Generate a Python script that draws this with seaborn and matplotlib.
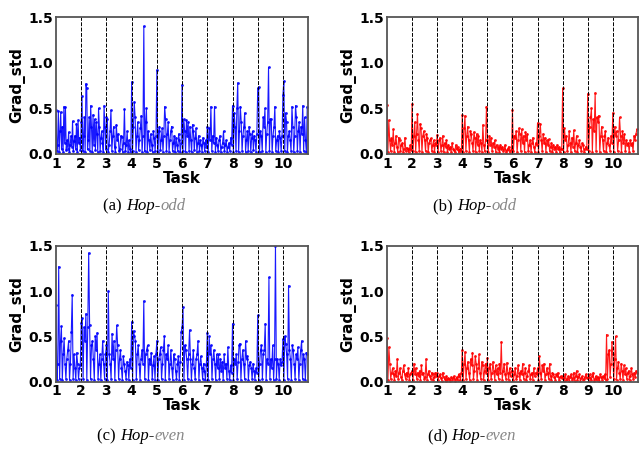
import pandas as pd
import matplotlib
matplotlib.use("Agg")
import matplotlib.pyplot as plt
from matplotlib.text import Annotation
import seaborn as sns

# per-task grad std values (10 tasks each)
odd_blue = [
    [0.48, 0.03, 0.10, 0.47, 0.02, 0.25, 0.46, 0.05, 0.30, 0.02, 0.52, 0.12, 0.51, 0.04, 0.15, 0.06, 0.24, 0.02, 0.10, 0.20, 0.08, 0.36, 0.03, 0.14, 0.20, 0.05, 0.33, 0.02, 0.37, 0.12, 0.18, 0.04],
    [0.35, 0.63, 0.03, 0.20, 0.40, 0.02, 0.77, 0.72, 0.05, 0.15, 0.40, 0.03, 0.53, 0.30, 0.02, 0.43, 0.10, 0.38, 0.04, 0.35, 0.22, 0.02, 0.50, 0.30, 0.03, 0.18, 0.25, 0.12, 0.02, 0.53, 0.30, 0.05],
    [0.40, 0.38, 0.02, 0.10, 0.25, 0.48, 0.03, 0.20, 0.30, 0.08, 0.02, 0.32, 0.15, 0.22, 0.03, 0.06, 0.20, 0.19, 0.02, 0.12, 0.49, 0.03, 0.10, 0.25, 0.02, 0.15, 0.05, 0.02],
    [0.79, 0.03, 0.30, 0.57, 0.40, 0.02, 0.20, 0.35, 0.04, 0.15, 0.28, 0.42, 0.02, 0.20, 1.40, 0.03, 0.35, 0.50, 0.02, 0.25, 0.15, 0.04, 0.22, 0.10, 0.02, 0.25, 0.18, 0.03, 0.20],
    [0.92, 0.02, 0.25, 0.30, 0.04, 0.15, 0.28, 0.02, 0.20, 0.52, 0.38, 0.03, 0.22, 0.35, 0.02, 0.15, 0.25, 0.30, 0.03, 0.12, 0.20, 0.02, 0.18, 0.10, 0.03, 0.22, 0.15, 0.02, 0.12],
    [0.76, 0.03, 0.38, 0.25, 0.02, 0.37, 0.20, 0.35, 0.03, 0.30, 0.15, 0.02, 0.32, 0.25, 0.04, 0.18, 0.28, 0.02, 0.12, 0.20, 0.03, 0.15, 0.10, 0.02, 0.18, 0.12, 0.03, 0.15, 0.08],
    [0.30, 0.02, 0.28, 0.15, 0.52, 0.03, 0.20, 0.12, 0.52, 0.02, 0.18, 0.10, 0.03, 0.15, 0.20, 0.02, 0.08, 0.12, 0.25, 0.03, 0.10, 0.15, 0.02, 0.08, 0.12, 0.03, 0.18, 0.10],
    [0.53, 0.02, 0.45, 0.30, 0.03, 0.50, 0.78, 0.02, 0.25, 0.52, 0.35, 0.03, 0.20, 0.30, 0.45, 0.02, 0.15, 0.25, 0.03, 0.30, 0.22, 0.02, 0.18, 0.25, 0.04, 0.20, 0.15, 0.02, 0.22],
    [0.72, 0.73, 0.02, 0.25, 0.20, 0.03, 0.40, 0.30, 0.50, 0.02, 0.22, 0.35, 0.95, 0.03, 0.38, 0.38, 0.02, 0.20, 0.30, 0.52, 0.03, 0.15, 0.20, 0.02, 0.25, 0.18, 0.03, 0.20],
    [0.65, 0.80, 0.03, 0.45, 0.35, 0.02, 0.20, 0.25, 0.15, 0.03, 0.52, 0.30, 0.02, 0.20, 0.53, 0.40, 0.03, 0.25, 0.35, 0.02, 0.30, 0.22, 0.53, 0.03, 0.40, 0.15, 0.02, 0.52],
]
odd_red = [
    [0.54, 0.02, 0.37, 0.15, 0.03, 0.17, 0.10, 0.27, 0.02, 0.12, 0.20, 0.08, 0.02, 0.18, 0.15, 0.03, 0.10, 0.12, 0.02, 0.06, 0.18, 0.03, 0.07, 0.05, 0.02, 0.06, 0.10, 0.04],
    [0.55, 0.03, 0.20, 0.35, 0.02, 0.22, 0.44, 0.15, 0.03, 0.33, 0.28, 0.02, 0.20, 0.25, 0.15, 0.03, 0.22, 0.18, 0.02, 0.12, 0.15, 0.17, 0.03, 0.10, 0.15, 0.02, 0.12, 0.10],
    [0.21, 0.02, 0.15, 0.18, 0.03, 0.10, 0.20, 0.02, 0.12, 0.08, 0.15, 0.02, 0.10, 0.05, 0.08, 0.02, 0.12, 0.06, 0.04, 0.02, 0.10, 0.05, 0.08, 0.02, 0.04, 0.06, 0.03],
    [0.43, 0.02, 0.28, 0.42, 0.03, 0.20, 0.30, 0.15, 0.02, 0.25, 0.22, 0.12, 0.03, 0.24, 0.18, 0.02, 0.22, 0.10, 0.20, 0.03, 0.15, 0.12, 0.02, 0.32, 0.10, 0.03, 0.15, 0.52],
    [0.15, 0.02, 0.20, 0.10, 0.18, 0.03, 0.12, 0.08, 0.15, 0.02, 0.10, 0.06, 0.08, 0.02, 0.10, 0.05, 0.08, 0.03, 0.06, 0.10, 0.02, 0.04, 0.06, 0.08, 0.02, 0.04, 0.05],
    [0.48, 0.03, 0.20, 0.18, 0.25, 0.02, 0.15, 0.28, 0.22, 0.03, 0.27, 0.12, 0.20, 0.02, 0.24, 0.15, 0.22, 0.03, 0.10, 0.15, 0.02, 0.12, 0.18, 0.08, 0.02, 0.12, 0.10],
    [0.34, 0.02, 0.20, 0.33, 0.15, 0.03, 0.22, 0.12, 0.18, 0.02, 0.15, 0.10, 0.16, 0.03, 0.08, 0.12, 0.02, 0.10, 0.06, 0.08, 0.02, 0.10, 0.05, 0.08, 0.02, 0.06, 0.05],
    [0.72, 0.02, 0.28, 0.15, 0.20, 0.03, 0.10, 0.25, 0.12, 0.02, 0.18, 0.08, 0.26, 0.03, 0.12, 0.20, 0.02, 0.10, 0.15, 0.08, 0.03, 0.12, 0.10, 0.02, 0.06, 0.08, 0.05],
    [0.66, 0.03, 0.30, 0.40, 0.50, 0.02, 0.38, 0.25, 0.67, 0.03, 0.40, 0.35, 0.42, 0.02, 0.20, 0.30, 0.15, 0.03, 0.20, 0.25, 0.02, 0.12, 0.18, 0.10, 0.03, 0.20, 0.12],
    [0.45, 0.02, 0.30, 0.20, 0.25, 0.03, 0.15, 0.40, 0.20, 0.02, 0.25, 0.12, 0.22, 0.03, 0.15, 0.10, 0.12, 0.02, 0.15, 0.10, 0.12, 0.03, 0.20, 0.15, 0.22, 0.27],
]
even_blue = [
    [0.85, 0.02, 0.20, 1.27, 0.03, 0.45, 0.61, 0.02, 0.30, 0.48, 0.20, 0.03, 0.25, 0.35, 0.45, 0.02, 0.20, 0.55, 0.96, 0.03, 0.30, 0.15, 0.02, 0.32, 0.20, 0.03, 0.15, 0.18],
    [0.65, 0.70, 0.03, 0.60, 0.45, 0.75, 0.02, 0.60, 1.42, 0.62, 0.03, 0.40, 0.45, 0.25, 0.02, 0.50, 0.35, 0.54, 0.03, 0.20, 0.30, 0.02, 0.25, 0.45, 0.20, 0.03, 0.30],
    [0.40, 0.02, 1.00, 0.30, 0.20, 0.03, 0.53, 0.25, 0.45, 0.02, 0.35, 0.62, 0.40, 0.03, 0.25, 0.35, 0.15, 0.02, 0.28, 0.20, 0.12, 0.03, 0.22, 0.18, 0.02, 0.25, 0.15],
    [0.66, 0.02, 0.56, 0.50, 0.45, 0.03, 0.30, 0.40, 0.20, 0.02, 0.25, 0.35, 0.20, 0.89, 0.03, 0.30, 0.35, 0.40, 0.02, 0.25, 0.20, 0.32, 0.03, 0.18, 0.28, 0.02, 0.30],
    [0.45, 0.02, 0.25, 0.30, 0.38, 0.03, 0.20, 0.35, 0.50, 0.02, 0.30, 0.25, 0.40, 0.03, 0.20, 0.35, 0.15, 0.02, 0.30, 0.25, 0.12, 0.03, 0.20, 0.28, 0.02, 0.22, 0.55],
    [0.60, 0.82, 0.02, 0.40, 0.35, 0.25, 0.03, 0.30, 0.57, 0.25, 0.02, 0.20, 0.35, 0.15, 0.03, 0.25, 0.30, 0.45, 0.02, 0.20, 0.28, 0.15, 0.03, 0.20, 0.12, 0.02, 0.18],
    [0.54, 0.02, 0.50, 0.30, 0.40, 0.03, 0.25, 0.35, 0.20, 0.02, 0.30, 0.15, 0.30, 0.03, 0.25, 0.12, 0.22, 0.02, 0.30, 0.15, 0.20, 0.03, 0.38, 0.12, 0.02, 0.18, 0.10],
    [0.64, 0.02, 0.25, 0.20, 0.30, 0.03, 0.22, 0.40, 0.42, 0.02, 0.25, 0.35, 0.20, 0.03, 0.45, 0.25, 0.28, 0.02, 0.18, 0.22, 0.15, 0.03, 0.20, 0.12, 0.02, 0.15, 0.10],
    [0.73, 0.02, 0.20, 0.35, 0.40, 0.03, 0.30, 0.35, 0.64, 0.02, 0.25, 0.20, 1.15, 0.03, 0.25, 0.15, 0.40, 0.02, 0.25, 1.50, 0.03, 0.25, 0.20, 0.02, 0.25, 0.18, 0.22],
    [0.47, 0.02, 0.50, 0.42, 0.30, 0.03, 1.06, 0.35, 0.25, 0.02, 0.40, 0.35, 0.20, 0.03, 0.30, 0.25, 0.38, 0.02, 0.20, 0.35, 0.45, 0.03, 0.30, 0.25, 0.02, 0.32, 0.30],
]
even_red = [
    [0.48, 0.02, 0.38, 0.20, 0.03, 0.10, 0.15, 0.08, 0.02, 0.12, 0.06, 0.25, 0.03, 0.10, 0.15, 0.05, 0.02, 0.12, 0.18, 0.08, 0.03, 0.10, 0.06, 0.15, 0.02, 0.08, 0.10],
    [0.12, 0.02, 0.20, 0.08, 0.15, 0.03, 0.10, 0.06, 0.12, 0.02, 0.18, 0.08, 0.10, 0.03, 0.05, 0.25, 0.02, 0.08, 0.12, 0.06, 0.03, 0.10, 0.08, 0.02, 0.05, 0.10, 0.06],
    [0.10, 0.02, 0.06, 0.08, 0.04, 0.01, 0.10, 0.05, 0.03, 0.01, 0.06, 0.02, 0.04, 0.03, 0.01, 0.05, 0.02, 0.04, 0.06, 0.01, 0.03, 0.05, 0.02, 0.08, 0.06, 0.02, 0.10],
    [0.35, 0.02, 0.20, 0.33, 0.03, 0.15, 0.22, 0.10, 0.02, 0.25, 0.18, 0.32, 0.03, 0.12, 0.28, 0.20, 0.02, 0.15, 0.30, 0.10, 0.03, 0.22, 0.18, 0.02, 0.12, 0.20, 0.10],
    [0.26, 0.02, 0.15, 0.20, 0.03, 0.10, 0.22, 0.12, 0.02, 0.18, 0.08, 0.15, 0.03, 0.20, 0.10, 0.44, 0.02, 0.12, 0.20, 0.08, 0.03, 0.21, 0.10, 0.02, 0.15, 0.06, 0.12],
    [0.12, 0.02, 0.08, 0.15, 0.03, 0.06, 0.18, 0.10, 0.02, 0.12, 0.08, 0.20, 0.03, 0.10, 0.15, 0.02, 0.06, 0.12, 0.18, 0.03, 0.08, 0.10, 0.02, 0.15, 0.06, 0.10, 0.08],
    [0.15, 0.02, 0.28, 0.10, 0.03, 0.18, 0.12, 0.20, 0.02, 0.08, 0.15, 0.10, 0.03, 0.20, 0.06, 0.02, 0.10, 0.08, 0.05, 0.02, 0.08, 0.06, 0.10, 0.02, 0.05, 0.06, 0.04],
    [0.06, 0.01, 0.04, 0.08, 0.02, 0.03, 0.06, 0.01, 0.05, 0.08, 0.02, 0.04, 0.10, 0.01, 0.06, 0.12, 0.02, 0.05, 0.08, 0.01, 0.04, 0.06, 0.02, 0.03, 0.05, 0.08, 0.04],
    [0.05, 0.01, 0.08, 0.04, 0.02, 0.06, 0.10, 0.01, 0.03, 0.06, 0.02, 0.05, 0.04, 0.01, 0.08, 0.05, 0.02, 0.06, 0.04, 0.08, 0.02, 0.52, 0.03, 0.30, 0.35, 0.05, 0.20, 0.44],
    [0.30, 0.03, 0.25, 0.50, 0.02, 0.15, 0.22, 0.10, 0.03, 0.20, 0.12, 0.02, 0.18, 0.08, 0.15, 0.03, 0.10, 0.12, 0.02, 0.06, 0.15, 0.08, 0.03, 0.10, 0.05, 0.12, 0.10],
]
tasks = list(range(1, 11))
captions = [("(a) ", "Hop-", "odd"), ("(b) ", "Hop-", "odd"),
            ("(c) ", "Hop-", "even"), ("(d) ", "Hop-", "even")]


def to_frame(per_task):
    xs, ys = [], []
    for t, vals in zip(tasks, per_task):
        n = len(vals)
        xs += [t + i / n for i in range(n)]
        ys += vals
    return pd.DataFrame({"Task": xs, "Grad_std": ys})


sns.set_style("white")
plt.rcParams.update({"text.color": "black", "axes.labelcolor": "black",
                     "xtick.color": "black", "ytick.color": "black"})
fig = plt.figure(figsize=(6.4, 4.58), dpi=100)

panels = [
    (odd_blue, "blue", [0.0875, 0.6638, 0.394, 0.299]),
    (odd_red, "red", [0.6047, 0.6638, 0.392, 0.299]),
    (even_blue, "blue", [0.0875, 0.1666, 0.394, 0.297]),
    (even_red, "red", [0.6047, 0.1666, 0.392, 0.297]),
]

for data, col, pos in panels:
    ax = fig.add_axes(pos)
    sns.lineplot(data=to_frame(data), x="Task", y="Grad_std", color=col, lw=0.8,
                 alpha=0.9, marker="o", markersize=2, markeredgewidth=0, ax=ax)
    for t in tasks[1:]:
        ax.axvline(t, color="black", lw=0.7, ls=(0, (4, 1.5)))
    ax.set_xlim(1, 11)
    ax.set_ylim(0, 1.5)
    ax.set_xticks(tasks)
    ax.set_yticks([0.0, 0.5, 1.0, 1.5])
    ax.set_yticklabels(["0.0", "0.5", "1.0", "1.5"])
    ax.tick_params(length=0, labelsize=10, pad=2)
    for lab in ax.get_xticklabels() + ax.get_yticklabels():
        lab.set_fontweight("bold")
    ax.set_xlabel("Task", fontsize=11, fontweight="bold", labelpad=0)
    ax.set_ylabel("Grad_std", fontsize=11, fontweight="bold", labelpad=2)
    for s in ax.spines.values():
        s.set_color("#555555")
        s.set_linewidth(1.3)

# captions: "(x) " upright, "Hop-" italic black, variant italic grey
cap_pos = [(0.161, 0.541), (0.677, 0.541), (0.152, 0.039), (0.668, 0.039)]
for (a, b, c), (x, y) in zip(captions, cap_pos):
    t1 = fig.text(x, y, a, fontsize=12, family="Liberation Serif")
    t2 = fig.add_artist(Annotation(b, xy=(1, 0), xycoords=t1, va="bottom", fontsize=12,
                                   family="Liberation Serif", style="italic"))
    fig.add_artist(Annotation(c, xy=(1, 0), xycoords=t2, va="bottom", fontsize=12,
                              family="Liberation Serif", style="italic", color="#888888"))

fig.savefig("out.png", dpi=100)
